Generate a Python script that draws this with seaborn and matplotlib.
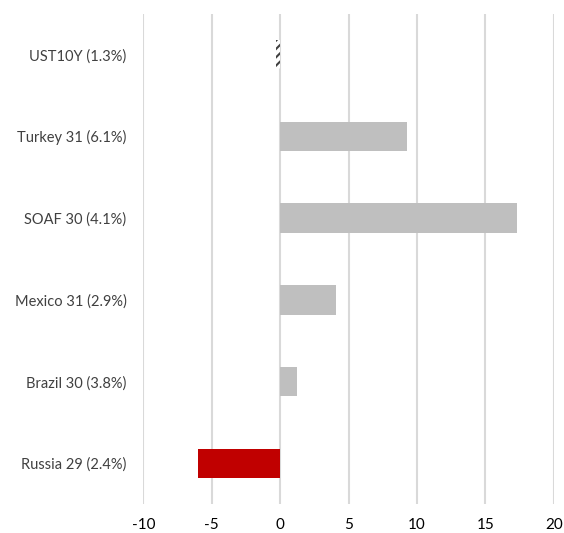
import matplotlib
matplotlib.use("Agg")
import matplotlib.pyplot as plt
import seaborn as sns
import pandas as pd

categories = ["UST10Y (1.3%)", "Turkey 31 (6.1%)", "SOAF 30 (4.1%)",
              "Mexico 31 (2.9%)", "Brazil 30 (3.8%)", "Russia 29 (2.4%)"]
values = [-0.3, 9.3, 17.3, 4.1, 1.25, -6.0]
colors = ["#ffffff", "#bfbfbf", "#bfbfbf", "#bfbfbf", "#bfbfbf", "#c00000"]
xticks = [-10, -5, 0, 5, 10, 15, 20]

sns.set_theme(style="white")
plt.rcParams["font.family"] = ["Lato", "DejaVu Sans"]
plt.rcParams["hatch.linewidth"] = 1.5

df = pd.DataFrame({"cat": categories, "val": values})

fig = plt.figure(figsize=(5.64, 5.33), dpi=100)
ax = fig.add_axes([0.254, 0.054, 0.728, 0.92])
sns.barplot(data=df, x="val", y="cat", hue="cat", palette=colors,
            orient="h", width=0.36, legend=False, ax=ax, saturation=1)

for patch, cat in zip(ax.patches, categories):
    patch.set_edgecolor("none")
    if cat.startswith("UST"):
        patch.set_hatch("////")
        patch.set_edgecolor("#404040")
        patch.set_linewidth(0)

ax.set_xlim(-10, 20)
ax.set_ylim(5.5, -0.5)
ax.set_xticks(xticks)
ax.set_xticklabels([str(t) for t in xticks])
ax.grid(axis="x", color="#d9d9d9", linewidth=1.5)
ax.set_axisbelow(True)
for s in ax.spines.values():
    s.set_visible(False)
ax.set_xlabel("")
ax.set_ylabel("")
ax.tick_params(axis="y", length=0, pad=12, labelsize=10.5, labelcolor="#404040")
ax.tick_params(axis="x", length=0, pad=10, labelsize=11, labelcolor="#000000")

fig.savefig("out.png", dpi=100)
